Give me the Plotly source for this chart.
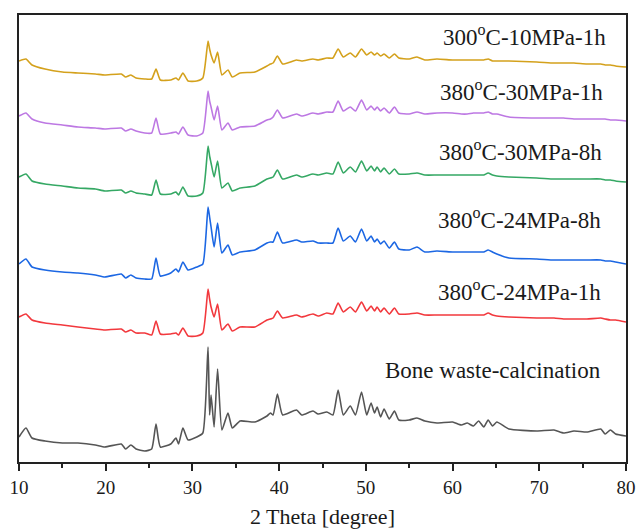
import plotly.graph_objects as go

two_theta = [10.0, 10.8, 11.5, 13.0, 15.0, 16.8, 18.8, 19.9, 21.8, 22.3, 22.9, 23.5, 24.5, 25.3, 25.8,
             26.3, 27.5, 28.1, 28.4, 28.9, 29.5, 30.5, 31.2, 31.8, 31.98, 32.15, 32.5, 32.9, 33.4, 34.1,
             34.6, 35.5, 37.2, 38.6, 39.0, 39.3, 39.8, 40.4, 42.0, 42.6, 43.9, 44.5, 45.5, 46.2, 46.8,
             47.4, 48.2, 48.8, 49.5, 50.1, 50.6, 51.0, 51.3, 51.7, 52.1, 52.7, 53.3, 53.8, 55.0, 55.9,
             56.8, 58.2, 60.0, 61.0, 61.7, 62.4, 63.0, 63.6, 64.1, 64.6, 65.1, 66.5, 69.7, 71.7, 72.8,
             74.0, 75.5, 77.1, 77.6, 78.2, 78.8, 80.0]

bone_calc = [24, 33, 23, 20, 18, 18, 16, 14, 17, 12, 16, 12, 10, 12, 37,
             14, 17, 23, 17, 33, 21, 24, 28, 114, 46, 66, 34, 92, 31, 48,
             33, 40, 39, 45, 48, 46, 67, 46, 51, 46, 50, 47, 49, 46, 71,
             46, 55, 46, 69, 46, 58, 48, 54, 44, 52, 42, 50, 41, 41, 43,
             40, 38, 39, 36, 38, 35, 40, 34, 41, 35, 39, 32, 30, 31, 28,
             30, 29, 32, 27, 31, 27, 25]

s_380_24_1 = [144, 147, 141, 138, 136, 134, 132, 131, 132, 129, 131, 128, 128, 126, 140,
              127, 127, 128, 126, 133, 125, 125, 128, 172, 162, 154, 144, 157, 131, 137,
              130, 134, 134, 141, 142, 143, 150, 143, 146, 144, 147, 145, 148, 147, 158,
              149, 154, 149, 159, 150, 155, 150, 154, 149, 153, 147, 153, 147, 147, 148,
              146, 146, 146, 146, 146, 146, 146, 146, 148, 146, 145, 144, 143, 143, 142,
              142, 142, 143, 142, 141, 141, 139]

s_380_24_8 = [197, 202, 194, 191, 189, 188, 186, 184, 187, 183, 186, 183, 182, 182, 203,
              185, 188, 192, 189, 199, 191, 194, 197, 254, 244, 234, 214, 238, 208, 216,
              206, 209, 211, 218, 219, 219, 229, 218, 221, 219, 220, 218, 218, 218, 233,
              220, 225, 219, 232, 220, 225, 219, 222, 217, 220, 213, 219, 212, 211, 214,
              209, 210, 209, 209, 209, 209, 209, 209, 211, 209, 207, 203, 202, 201, 201,
              201, 201, 201, 200, 200, 199, 197]

s_380_30_8 = [284, 287, 280, 277, 275, 273, 272, 270, 271, 268, 270, 268, 267, 266, 281,
              267, 267, 269, 266, 274, 265, 265, 268, 315, 305, 298, 284, 300, 273, 278,
              270, 273, 275, 282, 283, 284, 291, 282, 286, 284, 287, 286, 288, 287, 299,
              288, 294, 289, 300, 290, 295, 290, 294, 289, 293, 287, 292, 287, 287, 288,
              286, 286, 286, 286, 286, 286, 286, 286, 288, 286, 285, 284, 283, 282, 282,
              282, 282, 282, 281, 281, 280, 279]

s_380_30_1 = [345, 348, 342, 338, 336, 334, 333, 332, 333, 330, 332, 330, 328, 328, 343,
              327, 328, 329, 327, 334, 326, 325, 328, 370, 360, 354, 341, 355, 331, 338,
              331, 334, 335, 341, 342, 344, 351, 343, 347, 345, 348, 347, 349, 349, 360,
              350, 354, 350, 361, 351, 355, 351, 354, 350, 353, 348, 354, 348, 347, 349,
              347, 348, 348, 347, 347, 348, 348, 348, 349, 347, 347, 344, 343, 343, 343,
              342, 342, 342, 342, 341, 341, 340]

s_300_10_1 = [400, 402, 396, 392, 389, 388, 387, 386, 387, 384, 386, 383, 382, 382, 392,
              381, 381, 383, 381, 388, 380, 380, 383, 420, 412, 406, 398, 409, 386, 391,
              384, 388, 389, 395, 397, 398, 405, 397, 401, 400, 402, 401, 403, 403, 412,
              404, 408, 404, 412, 406, 409, 406, 408, 405, 407, 403, 407, 403, 402, 404,
              401, 402, 401, 401, 401, 401, 401, 401, 402, 400, 400, 400, 399, 398, 398,
              398, 397, 397, 396, 396, 395, 394]

series_names = ["Bone waste-calcination", "380<sup>o</sup>C-24MPa-1h", "380<sup>o</sup>C-24MPa-8h",
                "380<sup>o</sup>C-30MPa-8h", "380<sup>o</sup>C-30MPa-1h", "300<sup>o</sup>C-10MPa-1h"]
series_values = [bone_calc, s_380_24_1, s_380_24_8, s_380_30_8, s_380_30_1, s_300_10_1]
series_colors = ["#555555", "#F2383D", "#1C67E3", "#35A864", "#BD78E3", "#D4A11C"]
label_levels = [91, 171, 243, 311, 371, 426]   # label heights in intensity units
label_right = [77.4, 77.4, 77.4, 77.5, 77.6, 77.9]  # right edge of each label, degrees

x_ticks = [10, 20, 30, 40, 50, 60, 70, 80]

fig = go.Figure()
for name, vals, col in zip(series_names, series_values, series_colors):
    fig.add_trace(go.Scatter(x=two_theta, y=vals, mode="lines", name=name,
                             line=dict(color=col, width=1.6, shape="spline", smoothing=0.5),
                             showlegend=False))

for name, lev, xr in zip(series_names, label_levels, label_right):
    fig.add_annotation(x=xr, y=lev, xref="x", yref="y", text=name, showarrow=False,
                       xanchor="right", yanchor="middle",
                       font=dict(family="Liberation Serif", size=23, color="#1a1a1a"))

fig.add_annotation(x=0.5, y=-0.122, xref="paper", yref="paper", text="2 Theta [degree]",
                   showarrow=False, xanchor="center", yanchor="middle",
                   font=dict(family="Liberation Serif", size=22, color="#1a1a1a"))

fig.update_layout(
    width=637, height=530,
    margin=dict(l=19, r=11, t=15, b=68),
    paper_bgcolor="white", plot_bgcolor="white",
    font=dict(family="Liberation Serif", color="#1a1a1a"),
)
fig.update_xaxes(range=[10, 80], tickvals=x_ticks, ticks="outside", ticklen=7, tickwidth=1.5,
                 tickcolor="#222", showline=True, linecolor="#222", linewidth=2, mirror=True,
                 showgrid=False, zeroline=False, automargin=False,
                 tickfont=dict(family="Liberation Serif", size=19),
                 minor=dict(dtick=5, ticks="outside", ticklen=4, tickwidth=1.5, tickcolor="#222"))
fig.update_yaxes(range=[-1, 446], showticklabels=False, ticks="", showline=True, linecolor="#222",
                 linewidth=2, mirror=True, showgrid=False, zeroline=False, automargin=False)

fig.write_html("out.html", config={"displayModeBar": False},
               post_script="document.body.style.margin='0';document.body.style.overflow='hidden';")
